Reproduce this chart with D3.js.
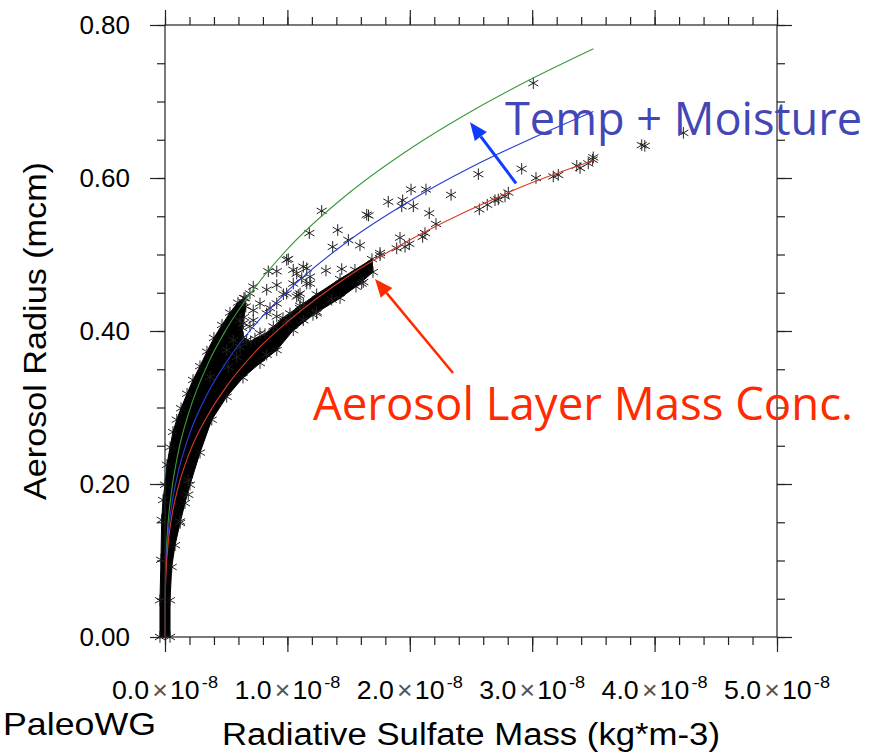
<!DOCTYPE html>
<html>
<head>
<meta charset="utf-8">
<script src="https://cdn.jsdelivr.net/npm/d3@7"></script>
<style>
  body { margin: 0; background: #fff; }
  svg { display: block; }
</style>
</head>
<body>
<div id="chart"></div>
<script>

// 1. Data (mass in units of 1e-8 kg m-3, radius in mcm)

const fitMass  = [0, 0.001, 0.005, 0.02, 0.05, 0.1, 0.2, 0.35, 0.5, 0.75, 1.0, 1.5, 2.0, 2.5, 3.0, 3.5];
const fitRed   = [0, 0.041, 0.070, 0.112, 0.152, 0.191, 0.241, 0.290, 0.327, 0.375, 0.412, 0.472, 0.519, 0.559, 0.594, 0.623];
const fitBlue  = [0, 0.045, 0.077, 0.123, 0.167, 0.210, 0.265, 0.319, 0.359, 0.411, 0.452, 0.518, 0.570, 0.614, 0.652, 0.687];
const fitGreen = [0, 0.051, 0.087, 0.137, 0.186, 0.235, 0.296, 0.357, 0.402, 0.460, 0.507, 0.580, 0.638, 0.687, 0.730, 0.769];

// outline of the dense cloud of points (too many to mark one by one)
const bandMass = [-0.041, -0.041, -0.033, -0.027, -0.016, 0, 0.016, 0.041, 0.065, 0.096, 0.131, 0.180, 0.229, 0.286, 0.343, 0.400, 0.466, 0.531, 0.596, 0.645,
    0.660, 0.645, 0.630, 0.640, 0.700,
    0.735, 0.817, 0.964, 1.103, 1.239, 1.430, 1.552, 1.691,
    1.699, 1.560, 1.430, 1.209, 1.048, 0.913, 0.776, 0.637, 0.504, 0.382, 0.286, 0.204, 0.163, 0.123, 0.082, 0.055, 0.041, 0.041];
const bandRadius = [0, 0.048, 0.101, 0.153, 0.179, 0.199, 0.225, 0.248, 0.268, 0.284, 0.299, 0.318, 0.336, 0.354, 0.373, 0.391, 0.408, 0.424, 0.437, 0.443,
    0.432, 0.418, 0.404, 0.392, 0.386,
    0.390, 0.396, 0.417, 0.433, 0.448, 0.468, 0.480, 0.494,
    0.477, 0.458, 0.443, 0.421, 0.401, 0.375, 0.358, 0.339, 0.314, 0.284, 0.241, 0.199, 0.175, 0.149, 0.120, 0.0915, 0.048, 0];

// single points outside the dense cloud
const sparseMass = [1.920, 1.893, 1.961, 1.996, 2.105, 2.124, 2.214, 2.159, 1.824, 1.942, 1.934, 2.029, 2.010, 2.132, 2.337, 2.560, 2.568, 2.633, 2.696, 2.723,
    2.778, 2.805, 2.914, 3.031, 3.172, 3.213, 3.364, 3.391, 3.458, 3.494, 3.895, 3.920, 4.235, 3.009, 3.499,
    1.280, 1.179, 1.411, 1.648, 1.663, 1.498, 1.370, 1.593, 1.007, 1.158, 1.315, 0.913, 0.844, 0.721, 1.048, 1.117, 1.185, 1.048, 0.967, 1.089,
    0.654, 1.239, 1.607, 1.444, 1.757,
    0.831, 0.913, 0.994, 1.076, 1.158, 0.640, 0.721, 0.776, 0.858, 0.613, 0.694, 0.776, 0.667, 0.586, 0.517, 0.368, 0.885, 0.994, 1.103, 1.130, 1.103,
    0.190, 0.123, 0.190, 0.994, 1.130, 1.362, 1.239, 0.831, 1.757, 1.620,
    0.694, 0.913, 1.076, 1.130, 1.185, 0.913, 0.721, 0.640, 1.021, 0.831, 0.558, 0.504, 0.613];
const sparseRadius = [0.522, 0.508, 0.510, 0.514, 0.523, 0.528, 0.540, 0.554, 0.569, 0.571, 0.563, 0.563, 0.585, 0.585, 0.578, 0.605, 0.559, 0.565, 0.571, 0.572,
    0.576, 0.581, 0.612, 0.600, 0.602, 0.604, 0.616, 0.613, 0.619, 0.624, 0.643, 0.642, 0.659, 0.724, 0.627,
    0.557, 0.528, 0.532, 0.552, 0.551, 0.519, 0.510, 0.512, 0.494, 0.482, 0.479, 0.478, 0.478, 0.458, 0.480, 0.469, 0.462, 0.462, 0.448, 0.447,
    0.443, 0.423, 0.462, 0.481, 0.502,
    0.454, 0.460, 0.449, 0.475, 0.462, 0.438, 0.427, 0.436, 0.430, 0.414, 0.406, 0.397, 0.388, 0.366, 0.353, 0.340, 0.406, 0.414, 0.430, 0.414, 0.449,
    0.186, 0.151, 0.205, 0.493, 0.484, 0.441, 0.425, 0.369, 0.499, 0.464,
    0.449, 0.436, 0.445, 0.436, 0.471, 0.419, 0.414, 0.410, 0.423, 0.423, 0.388, 0.375, 0.379];

const xTickValues = [0, 1, 2, 3, 4, 5];
const xTickLabels = ["0.0", "1.0", "2.0", "3.0", "4.0", "5.0"];
const yTickValues = [0, 0.2, 0.4, 0.6, 0.8];
const yTickLabels = ["0.00", "0.20", "0.40", "0.60", "0.80"];

// annotations: [tail mass, tail radius, head mass, head radius]
const blueArrow = [2.868, 0.593, 2.492, 0.673];
const redArrow = [2.353, 0.345, 1.716, 0.468];


// 2. Dimensions

const dimensions = {
    width: 886,
    height: 753,
    margin: { top: 25, right: 109, bottom: 116, left: 165 },
};
dimensions.boundedWidth = dimensions.width - dimensions.margin.left - dimensions.margin.right;
dimensions.boundedHeight = dimensions.height - dimensions.margin.top - dimensions.margin.bottom;

const labelFont = "'Liberation Sans', Arial, Helvetica, sans-serif";
const noteFont = "'Open Sans', 'Noto Sans', sans-serif";


// 3. Canvas

const chart = d3.select("#chart")
    .append("svg")
    .attr("width", dimensions.width)
    .attr("height", dimensions.height);

const bounds = chart.append("g")
    .attr("transform", `translate(${dimensions.margin.left}, ${dimensions.margin.top})`);


// 4. Scales

const xScale = d3.scaleLinear()
    .domain([0, 5])
    .range([0, dimensions.boundedWidth]);

const yScale = d3.scaleLinear()
    .domain([0, 0.8])
    .range([dimensions.boundedHeight, 0]);


// 5. Draw data

const asterisk = s => {
    let p = "";
    for (const a of [90, 30, 150]) {
        const dx = s * Math.cos(a * Math.PI / 180);
        const dy = s * Math.sin(a * Math.PI / 180);
        p += `M${-dx},${-dy}L${dx},${dy}`;
    }
    return p;
};

const band = d3.range(bandMass.length).map(i => [bandMass[i], bandRadius[i]]);

bounds.append("path")
    .attr("d", d3.line().x(d => xScale(d[0])).y(d => yScale(d[1])).curve(d3.curveLinearClosed)(band))
    .attr("fill", "#000")
    .attr("stroke", "#000")
    .attr("stroke-width", 1)
    .attr("stroke-linejoin", "round");

bounds.selectAll("path.band-mark")
    .data(band)
    .join("path")
    .attr("class", "band-mark")
    .attr("transform", d => `translate(${xScale(d[0])}, ${yScale(d[1])})`)
    .attr("d", asterisk(5.8))
    .attr("stroke", "#111")
    .attr("stroke-width", 0.9);

const sparse = d3.range(sparseMass.length).map(i => [sparseMass[i], sparseRadius[i]]);

bounds.selectAll("path.sparse-mark")
    .data(sparse)
    .join("path")
    .attr("class", "sparse-mark")
    .attr("transform", d => `translate(${xScale(d[0])}, ${yScale(d[1])})`)
    .attr("d", asterisk(5.8))
    .attr("stroke", "#222")
    .attr("stroke-width", 1);

const fitLine = d3.line()
    .x((d, i) => xScale(fitMass[i]))
    .y(d => yScale(d))
    .curve(d3.curveMonotoneX);

const fits = [
    { values: fitGreen, color: "#3a9a3a" },
    { values: fitBlue, color: "#2a3ad8" },
    { values: fitRed, color: "#d83a2a" },
];

bounds.selectAll("path.fit")
    .data(fits)
    .join("path")
    .attr("class", "fit")
    .attr("d", d => fitLine(d.values))
    .attr("fill", "none")
    .attr("stroke", d => d.color)
    .attr("stroke-width", 1.1);


// 6. Draw peripherals

const styleAxis = g => {
    g.select(".domain").remove();
    g.selectAll("line").attr("stroke", "#222").attr("stroke-width", 1.2);
    g.selectAll("text").remove();
};

const xMinor = d3.range(0, 26).map(i => i * 0.2);
const yMinor = d3.range(0, 17).map(i => i * 0.05);

bounds.append("g").attr("transform", `translate(0, ${dimensions.boundedHeight})`)
    .call(d3.axisBottom(xScale).tickValues(xMinor).tickSize(8)).call(styleAxis);
bounds.append("g").attr("transform", `translate(0, ${dimensions.boundedHeight})`)
    .call(d3.axisBottom(xScale).tickValues(xTickValues).tickSize(15)).call(styleAxis);
bounds.append("g")
    .call(d3.axisTop(xScale).tickValues(xMinor).tickSize(8)).call(styleAxis);
bounds.append("g")
    .call(d3.axisTop(xScale).tickValues(xTickValues).tickSize(15)).call(styleAxis);
bounds.append("g")
    .call(d3.axisLeft(yScale).tickValues(yMinor).tickSize(8)).call(styleAxis);
bounds.append("g")
    .call(d3.axisLeft(yScale).tickValues(yTickValues).tickSize(15)).call(styleAxis);
bounds.append("g").attr("transform", `translate(${dimensions.boundedWidth}, 0)`)
    .call(d3.axisRight(yScale).tickValues(yMinor).tickSize(8)).call(styleAxis);
bounds.append("g").attr("transform", `translate(${dimensions.boundedWidth}, 0)`)
    .call(d3.axisRight(yScale).tickValues(yTickValues).tickSize(15)).call(styleAxis);

bounds.append("rect")
    .attr("width", dimensions.boundedWidth)
    .attr("height", dimensions.boundedHeight)
    .attr("fill", "none")
    .attr("stroke", "#222")
    .attr("stroke-width", 1.2);

// y tick labels
bounds.selectAll("text.ylab")
    .data(yTickValues)
    .join("text")
    .attr("class", "ylab")
    .attr("x", -35)
    .attr("y", d => yScale(d))
    .attr("dy", "0.36em")
    .attr("text-anchor", "end")
    .style("font-family", labelFont)
    .style("font-size", "26px")
    .style("fill", "#000")
    .text((d, i) => yTickLabels[i]);

// x tick labels  (n.n x 10^-8)
const xLabels = bounds.selectAll("text.xlab")
    .data(xTickValues)
    .join("text")
    .attr("class", "xlab")
    .attr("x", d => xScale(d))
    .attr("y", dimensions.boundedHeight + 62)
    .attr("text-anchor", "middle")
    .attr("textLength", 106)
    .attr("lengthAdjust", "spacingAndGlyphs")
    .style("font-family", labelFont)
    .style("font-size", "25px")
    .style("fill", "#000");
xLabels.append("tspan").text((d, i) => xTickLabels[i]);
xLabels.append("tspan").attr("dx", 3).style("fill", "#555").text("\u00d7");
xLabels.append("tspan").attr("dx", 2).text("10");
xLabels.append("tspan").attr("dx", 2).attr("dy", -11).style("font-size", "17px").text("-8");

// axis titles
chart.append("text")
    .attr("x", 471)
    .attr("y", 745)
    .attr("text-anchor", "middle")
    .attr("textLength", 498)
    .attr("lengthAdjust", "spacingAndGlyphs")
    .style("font-family", labelFont)
    .style("font-size", "31px")
    .text("Radiative Sulfate Mass (kg*m-3)");

chart.append("text")
    .attr("transform", "translate(46, 331) rotate(-90)")
    .attr("text-anchor", "middle")
    .attr("textLength", 338)
    .attr("lengthAdjust", "spacingAndGlyphs")
    .style("font-family", labelFont)
    .style("font-size", "32px")
    .text("Aerosol Radius (mcm)");

chart.append("text")
    .attr("x", 3)
    .attr("y", 735)
    .attr("textLength", 153)
    .attr("lengthAdjust", "spacingAndGlyphs")
    .style("font-family", labelFont)
    .style("font-size", "32px")
    .text("PaleoWG");

// annotation arrows
const drawArrow = (a, color, width, headLen, headWidth) => {
    const x1 = xScale(a[0]), y1 = yScale(a[1]), x2 = xScale(a[2]), y2 = yScale(a[3]);
    const ang = Math.atan2(y2 - y1, x2 - x1);
    const bx = x2 - headLen * Math.cos(ang), by = y2 - headLen * Math.sin(ang);
    const nx = -Math.sin(ang) * headWidth / 2, ny = Math.cos(ang) * headWidth / 2;
    bounds.append("line")
        .attr("x1", x1).attr("y1", y1).attr("x2", bx).attr("y2", by)
        .attr("stroke", color).attr("stroke-width", width);
    bounds.append("path")
        .attr("d", `M${x2},${y2}L${bx + nx},${by + ny}L${bx - nx},${by - ny}Z`)
        .attr("fill", color);
};

drawArrow(blueArrow, "#0f3cff", 3, 18, 15);
drawArrow(redArrow, "#ff2a00", 2.5, 18, 15);

// annotation texts
bounds.append("text")
    .attr("x", xScale(2.778))
    .attr("y", yScale(0.656))
    .attr("textLength", 357)
    .attr("lengthAdjust", "spacingAndGlyphs")
    .style("font-family", noteFont)
    .style("font-size", "46px")
    .style("fill", "#4347b5")
    .text("Temp + Moisture");

bounds.append("text")
    .attr("x", xScale(1.209))
    .attr("y", yScale(0.284))
    .attr("textLength", 540)
    .attr("lengthAdjust", "spacingAndGlyphs")
    .style("font-family", noteFont)
    .style("font-size", "46px")
    .style("fill", "#ff2a00")
    .text("Aerosol Layer Mass Conc.");

</script>
</body>
</html>
